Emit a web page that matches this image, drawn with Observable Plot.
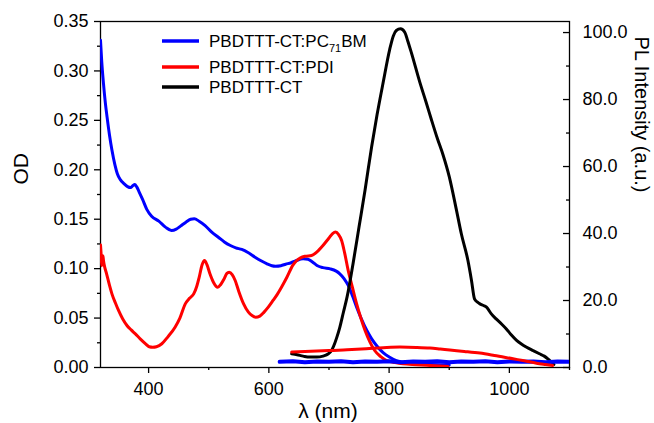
<!DOCTYPE html>
<html><head><meta charset="utf-8">
<script src="https://cdn.jsdelivr.net/npm/d3@7"></script>
<script src="https://cdn.jsdelivr.net/npm/@observablehq/plot@0.6"></script>
<style>
body{margin:0;background:#fff;}
#chart{width:654px;height:423px;}
</style></head><body><div id="chart"></div>
<script>
// ---- Data ----
// Absorption (left axis, OD)
const blueAbsWl = [320,322,325,328,331,335,339,344,348,353,359,365,370,374,377,380,384,390,397,405,417,428,438,446,453,462,470,476,484,494,505,516,526,536,545,555,566,577,587,597,605,611,620,628,637,645,657,665,672,680,690,702,712,718,725,732,740,746,754,763,771,779,790,801,812,823,845,870,900];
const blueAbsOd = [0.331,0.310,0.287,0.268,0.253,0.235,0.220,0.205,0.196,0.190,0.186,0.183,0.182,0.184,0.185,0.183,0.178,0.170,0.160,0.153,0.148,0.142,0.1386,0.140,0.143,0.147,0.150,0.1505,0.148,0.1436,0.137,0.1318,0.127,0.1234,0.121,0.1194,0.116,0.1116,0.108,0.1049,0.103,0.1025,0.103,0.1045,0.106,0.108,0.110,0.1095,0.107,0.1032,0.101,0.0998,0.0975,0.0948,0.090,0.083,0.071,0.061,0.049,0.0374,0.029,0.0223,0.015,0.0104,0.007,0.0054,0.0037,0.003,0.0025];

const redAbsWl = [320,321,322,323,324,325,327,330,335,339,345,350,357,364,371,378,386,395,401,407,413,422,432,444,452,461,468,475,480,484,489,493,497,502,508,515,520,525,530,534,539,544,550,558,566,572,578,585,592,599,607,614,621,630,640,646,652,660,671,680,690,700,706,711,716,721,726,732,739,746,753,760,768,776,786,796,810,823,845,868,898];
const redAbsOd = [0.124,0.115,0.103,0.112,0.113,0.108,0.1015,0.095,0.083,0.0745,0.065,0.0577,0.049,0.0425,0.038,0.034,0.029,0.024,0.021,0.0205,0.021,0.024,0.031,0.0408,0.050,0.0644,0.070,0.0745,0.082,0.091,0.104,0.1082,0.104,0.0948,0.086,0.0812,0.084,0.089,0.095,0.0964,0.094,0.088,0.077,0.0644,0.056,0.0525,0.0509,0.052,0.056,0.061,0.0678,0.074,0.0812,0.0913,0.1035,0.108,0.1106,0.1125,0.1133,0.117,0.1234,0.131,0.1355,0.137,0.1345,0.1285,0.116,0.098,0.081,0.0644,0.050,0.0374,0.026,0.0172,0.011,0.0071,0.005,0.0037,0.0028,0.002,0.001];

// Photoluminescence (right axis, a.u.)
const blackPlWl = [638,647,657,668,680,690,699,704,708,713,718,724,730,740,750,760,771,780,790,801,807,812,819,826,831,837,851,861,870,880,890,900,912,920,931,937,942,947,951,957,962,970,978,987,995,1003,1012,1020,1028,1040,1050,1058,1064,1070,1074];
const blackPl = [4.1,3.8,3.4,3.1,3.1,3.4,4.1,5.0,6.5,9.0,12,16.5,21,31,42,53,66,75.5,85,95,99,100.6,101.1,100.1,97.5,94,85.2,79.5,74.2,68.5,63.3,57,47,40,32,26,20.5,19.5,19,18.5,18,16,14.5,13,11.5,9.8,8.1,7,6.1,5,4.1,3.4,2.6,1.6,0.9];

const redPlWl = [638,660,690,707,730,762,790,818,845,868,885,901,925,951,975,1006,1025,1045,1060,1072];
const redPl = [4.6,4.8,5.0,5.1,5.3,5.6,5.9,6.1,6.0,5.8,5.5,5.2,4.8,4.3,3.6,2.6,2.0,1.3,0.9,0.6];

const bluePlWl = [618,640,660,680,700,720,740,760,780,800,820,840,860,880,900,920,940,960,980,1000,1020,1040,1060,1080,1100];
const bluePl = [1.7,1.9,1.6,1.8,1.7,1.9,1.6,1.8,1.7,1.9,1.6,1.8,1.7,1.9,1.6,1.8,1.7,1.9,1.6,1.8,1.7,1.8,1.6,1.8,1.7];

// Axis ticks & labels
const xTicks = [400,600,800,1000];
const xMinor = [500,700,900,1100];
const odTicks = [0,0.05,0.10,0.15,0.20,0.25,0.30,0.35];
const odMinor = [0.025,0.075,0.125,0.175,0.225,0.275,0.325];
const plTicks = [0,20,40,60,80,100];
const plMinor = [10,30,50,70,90];
const xLabel = "λ (nm)";
const yLabel = "OD";
const y2Label = "PL Intensity (a.u.)";
const legendNames = ["PBDTTT-CT:PC", "PBDTTT-CT:PDI", "PBDTTT-CT"];
const legendColors = ["#0000ff", "#ff0000", "#000000"];

// ---- Build ----
const PLMAX = 103.3, ODMAX = 0.35;
const K = ODMAX / PLMAX; // PL -> OD-scale units
const pts = (w, v, f = 1) => w.map((x, i) => ({x, y: v[i] * f}));

const font = "'Liberation Sans', Arial, Helvetica, sans-serif";
const plot = Plot.plot({
  width: 654, height: 423,
  marginLeft: 100, marginRight: 85, marginTop: 21, marginBottom: 56,
  style: {fontFamily: font, fontSize: "18px", color: "#000", background: "#fff", overflow: "visible"},
  x: {domain: [320, 1100]},
  y: {domain: [0, ODMAX]},
  marks: [
    // left axis
    Plot.axisY(odMinor, {tickSize: 3, fill: "none", strokeWidth: 1.3, label: null}),
    Plot.axisY(odTicks, {tickSize: 6, tickPadding: 6, strokeWidth: 1.3, tickFormat: d => d.toFixed(2), label: null}),
    // bottom axis
    Plot.axisX(xMinor, {tickSize: 3, fill: "none", strokeWidth: 1.3, label: null}),
    Plot.axisX(xTicks, {tickSize: 6, tickPadding: 9, strokeWidth: 1.3, tickFormat: d => String(d), label: null}),
    // right axis (ticks inward)
    Plot.axisY(plMinor.map(v => v * K), {anchor: "left", frameAnchor: "right", tickSize: 3, fill: "none", strokeWidth: 1.3, label: null}),
    Plot.axisY(plTicks.map(v => v * K), {anchor: "left", frameAnchor: "right", tickSize: 6, fill: "none", strokeWidth: 1.3, label: null}),
    Plot.axisY(plTicks.map(v => v * K), {anchor: "right", tickSize: 0, tickPadding: 13, textAnchor: "start", tickFormat: d => (d / K).toFixed(1), label: null}),
    Plot.frame({stroke: "#000", strokeWidth: 1.3}),
    // curves
    Plot.line(pts(blueAbsWl, blueAbsOd), {x: "x", y: "y", stroke: legendColors[0], strokeWidth: 3, curve: "monotone-x", clip: true}),
    Plot.line(pts(redAbsWl, redAbsOd), {x: "x", y: "y", stroke: legendColors[1], strokeWidth: 3, curve: "monotone-x", clip: true}),
    Plot.line(pts(blackPlWl, blackPl, K), {x: "x", y: "y", stroke: legendColors[2], strokeWidth: 3, curve: "monotone-x", clip: true}),
    Plot.line(pts(bluePlWl, bluePl, K), {x: "x", y: "y", stroke: legendColors[0], strokeWidth: 4, curve: "linear", clip: true}),
    Plot.line(pts(redPlWl, redPl, K), {x: "x", y: "y", stroke: legendColors[1], strokeWidth: 3, curve: "monotone-x", clip: true}),
    // axis titles
    Plot.text([yLabel], {frameAnchor: "left", dx: -79, dy: -10, rotate: -90, fontSize: 21, fill: "#000"}),
    Plot.text([y2Label], {frameAnchor: "right", dx: 72, dy: -2, rotate: 90, fontSize: 20, fill: "#000"}),
    Plot.text([xLabel], {frameAnchor: "bottom", dx: -7, dy: 50, lineAnchor: "bottom", fontSize: 21, fill: "#000"})
  ]
});
document.getElementById("chart").appendChild(plot);

// legend drawn into the same SVG
const svg = d3.select(plot);
const lg = svg.append("g").attr("font-family", font).attr("font-size", 17).attr("fill", "#000").attr("text-anchor", "start");
const rows = [{ly: 41, ty: 47}, {ly: 67, ty: 73}, {ly: 87, ty: 93}];
rows.forEach((r, i) => {
  lg.append("line").attr("x1", 162).attr("x2", 199).attr("y1", r.ly).attr("y2", r.ly)
    .attr("stroke", legendColors[i]).attr("stroke-width", 3.5);
  const t = lg.append("text").attr("x", 209).attr("y", r.ty).text(legendNames[i]);
  if (i === 0) {
    t.append("tspan").attr("font-size", 11).attr("dy", 5).text("71");
    t.append("tspan").attr("dy", -5).text("BM");
  }
});
</script></body></html>
